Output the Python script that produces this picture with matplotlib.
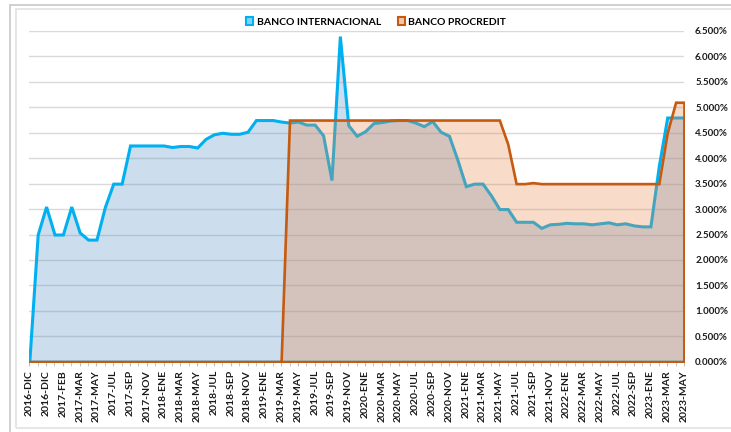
import matplotlib
matplotlib.use("Agg")
import matplotlib.pyplot as plt
from matplotlib.patches import Rectangle, Patch
from matplotlib.ticker import FixedLocator, FuncFormatter
import numpy as np

plt.rcParams['font.family'] = ['Lato', 'DejaVu Sans']

# Shown category labels (every other data point)
tick_labels = ["2016-DIC", "2016-DIC", "2017-FEB", "2017-MAR", "2017-MAY", "2017-JUL",
               "2017-SEP", "2017-NOV", "2018-ENE", "2018-MAR", "2018-MAY", "2018-JUL",
               "2018-SEP", "2018-NOV", "2019-ENE", "2019-MAR", "2019-MAY", "2019-JUL",
               "2019-SEP", "2019-NOV", "2020-ENE", "2020-MAR", "2020-MAY", "2020-JUL",
               "2020-SEP", "2020-NOV", "2021-ENE", "2021-MAR", "2021-MAY", "2021-JUL",
               "2021-SEP", "2021-NOV", "2022-ENE", "2022-MAR", "2022-MAY", "2022-JUL",
               "2022-SEP", "2023-ENE", "2023-MAR", "2023-MAY"]

banco_internacional = [0.00, 2.50, 3.05, 2.50, 2.50, 3.05, 2.54, 2.40, 2.40, 3.04,
                       3.50, 3.50, 4.25, 4.25, 4.25, 4.25, 4.25, 4.22, 4.24, 4.24,
                       4.21, 4.38, 4.47, 4.50, 4.48, 4.48, 4.52, 4.75, 4.75, 4.75,
                       4.72, 4.70, 4.72, 4.66, 4.66, 4.45, 3.57, 6.40, 4.65, 4.44,
                       4.53, 4.69, 4.71, 4.74, 4.75, 4.75, 4.70, 4.63, 4.73, 4.52,
                       4.44, 3.97, 3.45, 3.50, 3.50, 3.27, 3.00, 3.00, 2.75, 2.75,
                       2.75, 2.63, 2.70, 2.71, 2.73, 2.72, 2.72, 2.70, 2.72, 2.74,
                       2.70, 2.72, 2.68, 2.66, 2.66, 3.85, 4.80, 4.80, 4.80]

banco_procredit = [0.0] * 31 + [4.75] * 26 + [4.28, 3.50, 3.50, 3.52] + [3.50] * 15 + [4.50, 5.10, 5.10]

series_names = ["BANCO INTERNACIONAL", "BANCO PROCREDIT"]

W, H = 731, 432
fig = plt.figure(figsize=(W / 100, H / 100), dpi=100)

# chart borders
fig.add_artist(Rectangle((10 / W, 1 - 433 / H), 740 / W, 428 / H, transform=fig.transFigure,
                         fill=False, edgecolor='#C8C8C8', linewidth=1.2))
fig.add_artist(Rectangle((16 / W, 1 - 428 / H), 740 / W, 419 / H, transform=fig.transFigure,
                         fill=False, edgecolor='#E2E2E2', linewidth=1.2))

x0, x1 = 29.3, 684.0
ytop, ybot = 31.0, 361.7
ax = fig.add_axes([x0 / W, 1 - ybot / H, (x1 - x0) / W, (ybot - ytop) / H])

x = np.arange(len(banco_internacional))
blue_line = '#00B0F0'
blue_fill = (80 / 255, 138 / 255, 196 / 255, 0.29)
orange_line = '#C55A11'
orange_fill = (232 / 255, 138 / 255, 75 / 255, 0.30)

ax.fill_between(x, banco_internacional, 0, facecolor=blue_fill, edgecolor=blue_line,
                linewidth=2.2, joinstyle='miter', zorder=2)
ax.fill_between(x, banco_procredit, 0, facecolor=orange_fill, edgecolor=orange_line,
                linewidth=1.9, joinstyle='miter', zorder=3)

ax.set_xlim(0, len(x) - 1)
ax.set_ylim(0, 6.5)

yt = np.arange(0, 6.51, 0.5)
ax.set_yticks(yt)
ax.yaxis.tick_right()
ax.yaxis.set_major_formatter(FuncFormatter(lambda v, p: f"{v:.3f}%"))
ax.tick_params(axis='y', length=0, pad=8, labelsize=7, labelcolor='#1a1a1a')
for t in ax.get_yticklabels():
    t.set_fontweight('bold')

ax.grid(axis='y', color='#D9D9D9', linewidth=1.0, zorder=0)
ax.set_axisbelow(True)

major = x[::2]
ax.xaxis.set_major_locator(FixedLocator(major))
ax.set_xticklabels(tick_labels, rotation=90, fontsize=7.5, fontweight='bold', color='#1a1a1a')
ax.xaxis.set_minor_locator(FixedLocator(x[1::2]))
ax.tick_params(axis='x', which='both', length=3, color='#BFBFBF', pad=3)

for s in ax.spines.values():
    s.set_visible(False)

handles = [Patch(facecolor='#7FD5F5', edgecolor=blue_line, linewidth=1.5),
           Patch(facecolor='#F3C7A6', edgecolor=orange_line, linewidth=1.5)]
fig.legend(handles, series_names, loc='center', bbox_to_anchor=(376 / W, 1 - 22 / H),
           ncol=2, frameon=False, handlelength=0.7, handleheight=0.7, handletextpad=0.3,
           columnspacing=1.6, prop={'weight': 'bold', 'size': 7.5})

fig.savefig('out.png', dpi=100)
